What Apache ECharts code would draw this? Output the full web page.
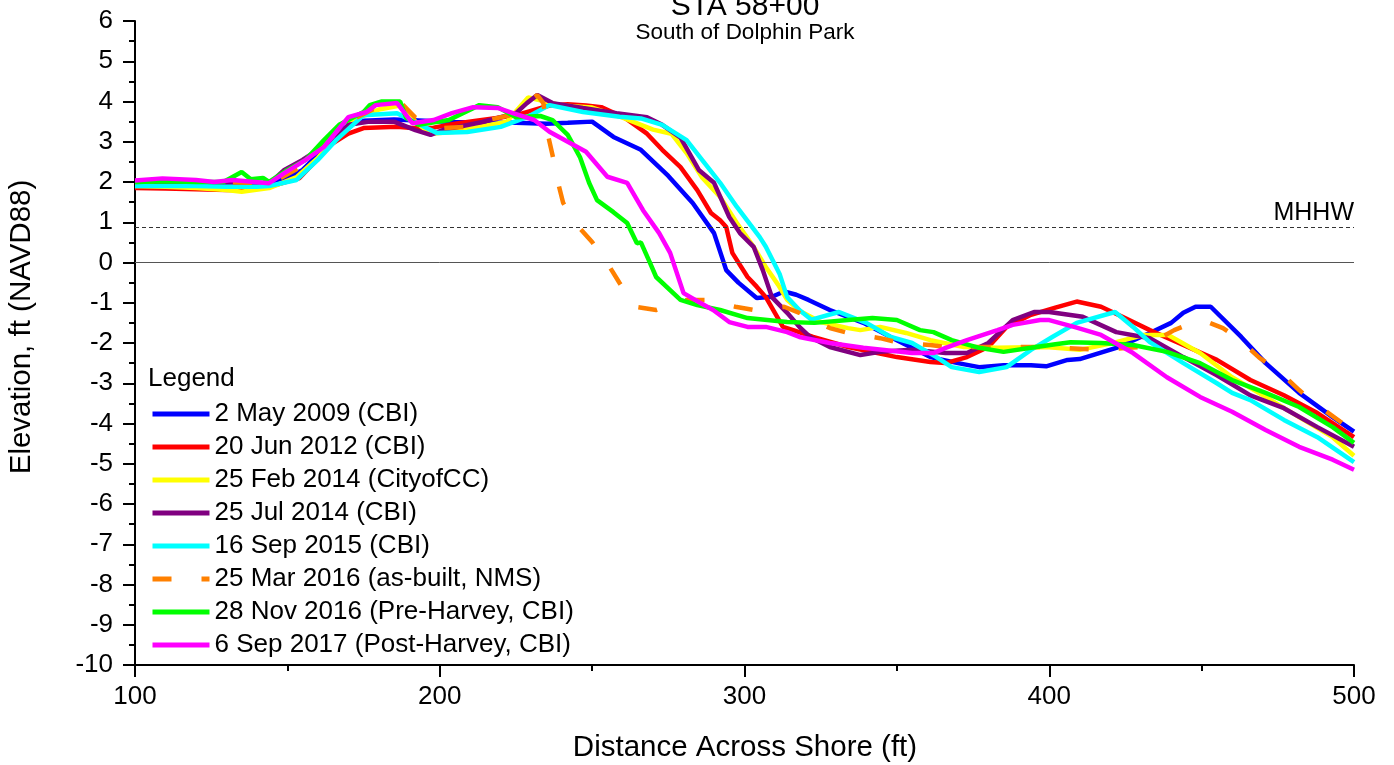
<!DOCTYPE html>
<html>
<head>
<meta charset="utf-8">
<script src="https://cdn.jsdelivr.net/npm/echarts@6/dist/echarts.min.js"></script>
<style>
html,body{margin:0;padding:0;background:#fff;}
#c{width:1394px;height:765px;}
</style>
</head>
<body>
<div id="c"></div>
<script>
var seriesNames = ['2 May 2009 (CBI)','20 Jun 2012 (CBI)','25 Feb 2014 (CityofCC)','25 Jul 2014 (CBI)','16 Sep 2015 (CBI)','25 Mar 2016 (as-built, NMS)','28 Nov 2016 (Pre-Harvey, CBI)','6 Sep 2017 (Post-Harvey, CBI)'];
var seriesColors = ['#0000ff','#ff0000','#ffff00','#800080','#00ffff','#ff8000','#00ff00','#ff00ff'];
var xTicks = [100,200,300,400,500];
var yTicks = [-10,-9,-8,-7,-6,-5,-4,-3,-2,-1,0,1,2,3,4,5,6];
var mhhw = 0.88;

var may2009 = [[100,1.93],[110,1.97],[120,1.98],[130,1.98],[140,1.97],[145,1.98],[150,2.1],[155,2.3],[161,2.75],[165,3.15],[170,3.4],[175,3.52],[185,3.55],[195,3.52],[205,3.49],[215,3.48],[225,3.47],[235,3.45],[242,3.47],[250,3.5],[257,3.12],[266,2.8],[275,2.15],[283,1.48],[290,0.73],[294,-0.19],[298,-0.5],[304,-0.88],[309,-0.85],[313,-0.72],[317,-0.8],[321,-0.93],[328,-1.18],[339,-1.5],[350,-1.93],[361,-2.35],[370,-2.5],[377,-2.6],[385,-2.55],[394,-2.55],[399,-2.58],[406,-2.42],[410,-2.4],[422,-2.12],[433,-1.75],[440,-1.5],[444,-1.25],[448,-1.1],[453,-1.1],[463,-1.85],[471,-2.5],[482,-3.24],[493,-3.84],[500,-4.2]];
var jun2012 = [[100,1.85],[110,1.84],[120,1.82],[130,1.8],[135,1.8],[144,1.88],[154,2.1],[159,2.5],[164,2.92],[170,3.2],[175,3.34],[186,3.37],[191,3.34],[198,3.35],[205,3.45],[212,3.52],[220,3.6],[226,3.68],[231,3.79],[236,3.9],[242,3.93],[248,3.9],[253,3.86],[261,3.58],[268,3.2],[273,2.8],[279,2.37],[284.5,1.8],[289,1.23],[292,1.05],[294,0.88],[296,0.24],[301,-0.36],[304,-0.6],[307,-0.86],[312.6,-1.6],[316,-1.68],[322.5,-1.85],[334,-2.1],[350,-2.35],[361,-2.47],[366,-2.5],[373,-2.35],[380,-2.1],[386,-1.6],[394,-1.3],[402,-1.12],[409,-0.97],[417,-1.1],[424,-1.35],[433,-1.68],[444,-2.05],[455,-2.42],[466,-2.92],[477,-3.3],[488,-3.74],[500,-4.34]];
var feb2014 = [[100,1.9],[110,1.88],[120,1.85],[130,1.8],[135,1.76],[144,1.85],[153,2.12],[160,2.6],[166,3.1],[172,3.55],[180,3.8],[187,3.9],[192,3.5],[197,3.2],[205,3.25],[215,3.4],[222,3.5],[229,4.1],[233,4.03],[240,3.9],[250,3.85],[260,3.6],[270,3.3],[276,3.2],[281,2.72],[286,2.12],[292,1.63],[297.5,0.98],[303,0.39],[307,-0.11],[311,-0.55],[314,-0.93],[318,-1.2],[325,-1.48],[334,-1.63],[338,-1.68],[344.5,-1.6],[353,-1.75],[361,-1.93],[372,-2.1],[383,-2.12],[399,-2.1],[410,-2.17],[422,-1.98],[431,-1.8],[439,-1.8],[449.5,-2.25],[460,-2.85],[471,-3.34],[482,-3.84],[493,-4.34],[500,-4.8]];
var jul2014 = [[100,1.95],[110,1.97],[120,1.97],[130,1.95],[140,1.93],[144,1.95],[149,2.3],[155,2.55],[162,2.9],[167,3.17],[170,3.42],[177,3.5],[185,3.5],[192,3.29],[197,3.17],[201,3.29],[214,3.49],[225,3.71],[228.6,3.96],[232,4.16],[237,3.96],[247,3.84],[258,3.71],[268,3.61],[273,3.42],[279,3.1],[285,2.3],[290,1.98],[295,1.13],[298.5,0.73],[303,0.39],[306,-0.19],[309,-0.86],[314,-1.25],[318,-1.6],[321.5,-1.85],[328,-2.1],[338,-2.3],[344.5,-2.22],[355,-2.17],[366,-2.25],[373,-2.25],[380,-2.0],[388,-1.43],[395,-1.23],[400,-1.23],[411,-1.35],[422,-1.73],[433,-1.88],[444,-2.35],[455,-2.8],[466,-3.3],[477,-3.62],[488,-4.09],[500,-4.58]];
var sep2015 = [[100,1.9],[110,1.9],[120,1.9],[130,1.88],[140,1.88],[144,1.9],[153,2.05],[160,2.55],[166,3.04],[175,3.66],[186,3.71],[192.5,3.46],[199,3.22],[209,3.24],[220,3.37],[228.6,3.61],[236,3.91],[247,3.74],[259,3.62],[266,3.58],[273,3.42],[281,3.04],[292,1.98],[297.5,1.38],[305,0.63],[307,0.39],[311.6,-0.3],[314,-0.86],[318,-1.18],[322,-1.42],[331,-1.23],[340,-1.5],[348,-1.85],[355,-2.0],[363,-2.35],[368,-2.6],[377,-2.72],[386,-2.6],[394,-2.17],[401,-1.85],[409,-1.5],[421.6,-1.23],[427.5,-1.6],[433,-1.98],[444,-2.5],[455,-3.0],[460,-3.24],[466,-3.42],[477,-3.91],[488,-4.34],[500,-4.96]];
var mar2016 = [[100,2.0],[110,2.03],[120,2.01],[130,2.0],[140,1.98],[145,1.98],[155,2.4],[163,3.0],[170,3.5],[178,3.8],[187.5,3.95],[192,3.6],[201,3.34],[208,3.37],[216,3.54],[223,3.66],[232,4.16],[234,3.96],[235.5,3.17],[237,2.67],[239,1.93],[240.5,1.48],[245,0.93],[250,0.51],[256,-0.14],[259,-0.51],[264,-1.1],[271,-1.18],[281,-0.93],[287,-0.93],[297,-1.1],[303,-1.18],[313,-1.1],[318,-1.25],[328,-1.63],[334,-1.75],[344.5,-1.88],[350,-1.98],[361,-2.05],[366,-2.1],[383,-2.1],[399,-2.1],[416,-2.17],[426,-2.12],[431,-2.1],[441,-1.68],[447,-1.5],[451,-1.45],[457,-1.63],[462,-1.88],[469,-2.37],[475,-2.67],[482,-3.17],[487,-3.49],[500,-4.2]];
var nov2016 = [[100,2.0],[110,2.02],[120,2.0],[129,2.0],[135,2.25],[138,2.07],[142,2.1],[144,2.0],[150,2.3],[156,2.55],[162,3.04],[167,3.42],[175,3.74],[177,3.91],[181,4.0],[187,4.0],[189,3.59],[193,3.42],[203,3.54],[213,3.91],[219,3.86],[225,3.61],[233,3.64],[237,3.54],[242,3.17],[246,2.62],[249,1.98],[251.6,1.55],[257,1.25],[261.5,0.98],[264.7,0.48],[266,0.5],[269,-0.01],[271,-0.36],[279,-0.93],[284.5,-1.06],[292,-1.18],[301,-1.38],[314,-1.48],[323,-1.5],[334,-1.43],[342,-1.38],[350,-1.43],[357.6,-1.68],[362,-1.73],[368,-1.93],[377,-2.12],[385,-2.22],[394,-2.12],[402,-2.03],[407,-1.98],[417,-2.0],[427.5,-2.05],[438.6,-2.22],[449.5,-2.5],[460,-2.92],[471,-3.24],[482,-3.59],[493,-4.09],[500,-4.48]];
var sep2017 = [[100,2.04],[109,2.09],[120,2.05],[126,2.0],[132,2.05],[144,1.97],[149,2.22],[156,2.55],[162,2.87],[170,3.61],[176,3.74],[179,3.91],[186,3.96],[191,3.46],[198,3.54],[204,3.71],[211,3.86],[219,3.84],[224,3.71],[231,3.54],[236,3.25],[242,3.0],[248,2.75],[255,2.13],[261.5,1.98],[266.7,1.3],[272,0.73],[275.6,0.24],[280,-0.76],[285.4,-1.0],[289.7,-1.18],[295,-1.48],[301,-1.6],[307,-1.6],[314,-1.73],[318,-1.85],[328,-2.0],[339,-2.12],[355,-2.25],[362,-2.25],[366,-2.12],[373,-1.93],[383,-1.68],[388,-1.55],[397,-1.43],[400,-1.43],[409,-1.62],[417,-1.8],[427.5,-2.25],[438.6,-2.85],[449.5,-3.34],[460,-3.71],[471,-4.16],[482,-4.58],[493,-4.9],[500,-5.15]];

var allData = [may2009, jun2012, feb2014, jul2014, sep2015, mar2016, nov2016, sep2017];

var FONT = '"Liberation Sans", Arial, sans-serif';
var chart = echarts.init(document.getElementById('c'), null, {renderer:'canvas'});

var series = [{
  name: 'ref', type: 'line', data: [], silent: true, z: 1,
  markLine: {
    silent: true, symbol: 'none', animation: false,
    data: [
      {yAxis: mhhw, lineStyle: {type: [4, 3], color: '#333', width: 1},
       label: {show: true, formatter: 'MHHW', position: 'insideEndTop', color: '#000', fontSize: 25, fontFamily: FONT, distance: [0, 1]}},
      {yAxis: 0, lineStyle: {type: 'solid', color: '#555', width: 1}, label: {show: false}}
    ]
  }
}];
for (var i = 0; i < seriesNames.length; i++) {
  series.push({
    name: seriesNames[i], type: 'line', data: allData[i], symbol: 'none', showSymbol: false,
    z: 2 + i, animation: false,
    lineStyle: {color: seriesColors[i], width: 4.5, type: i === 5 ? [19, 30] : 'solid'},
    itemStyle: {color: seriesColors[i]}
  });
}

chart.setOption({
  animation: false,
  backgroundColor: '#fff',
  grid: {left: 135, right: 40, top: 21, bottom: 100, containLabel: false},
  xAxis: {
    type: 'value', min: xTicks[0], max: xTicks[xTicks.length-1], interval: 100,
    axisLine: {show: true, onZero: false, lineStyle: {color: '#000', width: 2}},
    axisTick: {show: true, inside: false, length: 12, lineStyle: {color: '#000', width: 2}},
    minorTick: {show: true, splitNumber: 2, length: 6, lineStyle: {color: '#000', width: 2}},
    splitLine: {show: false},
    axisLabel: {color: '#000', fontSize: 26, fontFamily: FONT, margin: 19}
  },
  yAxis: {
    type: 'value', min: yTicks[0], max: yTicks[yTicks.length-1], interval: 1,
    axisLine: {show: true, onZero: false, lineStyle: {color: '#000', width: 2}},
    axisTick: {show: true, inside: false, length: 12, lineStyle: {color: '#000', width: 2}},
    minorTick: {show: true, splitNumber: 2, length: 6, lineStyle: {color: '#000', width: 2}},
    splitLine: {show: false},
    axisLabel: {color: '#000', fontSize: 26, fontFamily: FONT, margin: 22}
  },
  legend: {
    data: seriesNames, orient: 'vertical', left: 145, top: 396,
    itemWidth: 57, itemHeight: 6, itemGap: 7,
    itemStyle: {opacity: 0},
    lineStyle: {width: 5},
    textStyle: {color: '#000', fontSize: 26, fontFamily: FONT, lineHeight: 26, padding: [0, 0, 0, 0]},
    selectedMode: false
  },
  graphic: [
    {type: 'text', left: 148, top: 366, style: {text: 'Legend', fill: '#000', font: '26px ' + FONT}},
    {type: 'text', x: 745, y: 6.5, style: {text: 'STA 58+00', fill: '#000', font: '30px ' + FONT, textAlign: 'center', textVerticalAlign: 'middle'}},
    {type: 'text', x: 745, y: 33, style: {text: 'South of Dolphin Park', fill: '#000', font: '22.5px ' + FONT, textAlign: 'center', textVerticalAlign: 'middle'}},
    {type: 'text', x: 22, y: 327, rotation: Math.PI / 2, style: {text: 'Elevation, ft (NAVD88)', fill: '#000', font: '29.5px ' + FONT, textAlign: 'center', textVerticalAlign: 'middle'}},
    {type: 'text', x: 745, y: 748, style: {text: 'Distance Across Shore (ft)', fill: '#000', font: '29.5px ' + FONT, textAlign: 'center', textVerticalAlign: 'middle'}}
  ],
  series: series
});
</script>
</body>
</html>
